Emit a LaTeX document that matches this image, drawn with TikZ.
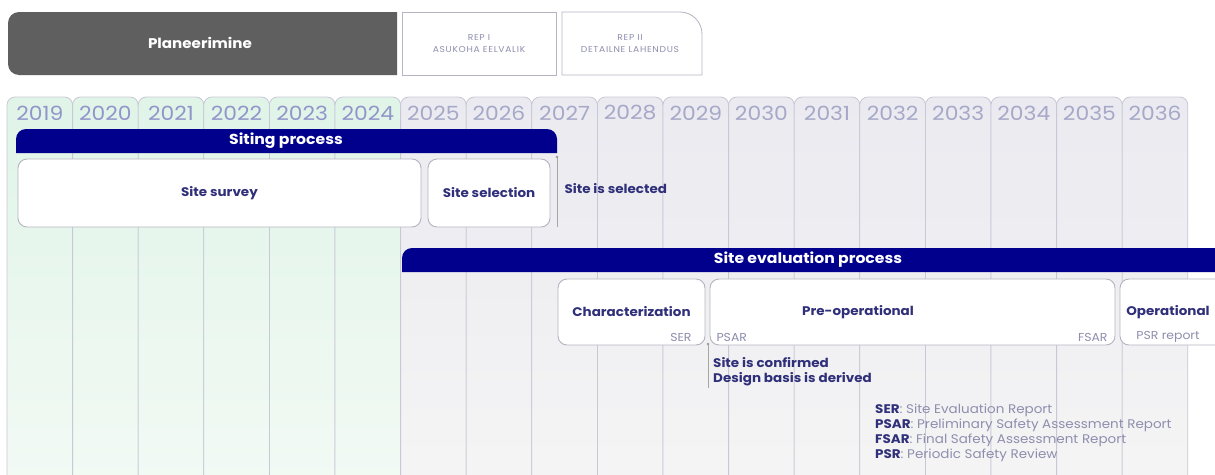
\documentclass[tikz,border=0pt]{standalone}
\usepackage{fontspec}
\setmainfont{Poppins}[FakeStretch=1.08]
\newfontfamily\yearfont{Poppins}[FakeStretch=1.12]
\usetikzlibrary{positioning}
\definecolor{navy}{HTML}{00008C}
\definecolor{ink}{HTML}{30307A}
\definecolor{soft}{HTML}{8E8EAE}
\definecolor{tabline}{HTML}{C8C8D6}
\definecolor{yearA}{HTML}{9195C9}
\definecolor{yearB}{HTML}{A6A8C8}
\definecolor{darkbox}{HTML}{5F5F5F}
\definecolor{boxline}{HTML}{B4B4C2}
\definecolor{greenT}{HTML}{E0F4E8}
\definecolor{greenM}{HTML}{CFEEDA}
\definecolor{greenB}{HTML}{F3FAF5}
\definecolor{greyT}{HTML}{EAEAF0}
\definecolor{greyM}{HTML}{E0E0E3}
\definecolor{greyB}{HTML}{F5F5F5}
\tikzset{
  phasebox/.style={draw=boxline, line width=0.9pt, fill=white, rounded corners=9pt, inner sep=0pt},
  boxtxt/.style={text=ink, font=\fontsize{12.5}{14}\selectfont\bfseries},
  smalltxt/.style={text=soft, font=\fontsize{11.5}{13}\selectfont},
  bartxt/.style={text=white, font=\fontsize{14.5}{16}\selectfont\bfseries},
  reptxt/.style={text=soft, font=\fontsize{8.5}{12}\selectfont\addfontfeatures{LetterSpace=8}, align=center},
  yeartxt/.style={font=\yearfont\fontsize{19.5}{21}\selectfont},
  mile/.style={draw=gray!70, line width=0.9pt},
  miletxt/.style={text=ink, font=\fontsize{12.5}{15}\selectfont\bfseries, align=left},
  legtxt/.style={text=soft, font=\fontsize{12.5}{15}\selectfont, align=left},
}
\begin{document}
\begin{tikzpicture}[x=1pt,y=-1pt]
\useasboundingbox (0,0) rectangle (1215,474);
\fill[white] (0,0) rectangle (1215,474);
% year columns
\foreach \yr [count=\i from 0] in {2019,2020,2021,2022,2023,2024,2025,2026,2027,2028,2029,2030,2031,2032,2033,2034,2035,2036} {
  \pgfmathsetmacro\xl{7+65.6*\i}
  \pgfmathsetmacro\xr{\xl+65.6}
  \pgfmathsetmacro\xc{\xl+32.8}
  \ifnum\i<6
    \shade[top color=greenT, middle color=greenM, bottom color=greenB, rounded corners=8pt] (\xl,500) -- (\xl,97) -- (\xr,97) -- (\xr,500) -- cycle;
    \node[yeartxt, text=yearA] (y\yr) at (\xc,113) {\yr};
  \else
    \shade[top color=greyT, middle color=greyM, bottom color=greyB, rounded corners=8pt] (\xl,500) -- (\xl,97) -- (\xr,97) -- (\xr,500) -- cycle;
    \node[yeartxt, text=yearB] (y\yr) at (\xc,113) {\yr};
  \fi
  \draw[tabline, line width=0.8pt, rounded corners=8pt] (\xl,500) -- (\xl,97) -- (\xr,97) -- (\xr,500);
}
% top planning row
\fill[darkbox] (397,12) [rounded corners=11pt] -- (8,12) -- (8,75) [sharp corners] -- (397,75) -- cycle;
\node[text=white, font=\fontsize{14}{16}\selectfont\bfseries] (plan) at (200,43) {Planeerimine};
\node[draw=boxline, line width=0.8pt, fill=white, minimum width=154pt, minimum height=63pt, inner sep=0pt] (rep1box) at (479,43.5) {};
\node[reptxt] (rep1) at (rep1box) {REP I\\ASUKOHA EELVALIK};
\draw[boxline, line width=0.8pt, fill=white] (562,12) [rounded corners=22pt] -- (702,12) [sharp corners] -- (702,75) -- (562,75) -- cycle;
\node[reptxt] (rep2) at (630,43.5) {REP II\\DETAILNE LAHENDUS};
% siting process
\fill[navy] (16,153) [rounded corners=10pt] -- (16,129) -- (557,129) [sharp corners] -- (557,153) -- cycle;
\node[bartxt] (siting) at (286,141) {Siting process};
\node[phasebox, minimum width=403pt, minimum height=68pt] (survey) at (219.5,193) {};
\node[boxtxt] at (survey) {Site survey};
\node[phasebox, minimum width=122pt, minimum height=68pt] (select) at (489,193) {};
\node[boxtxt] at (select) {Site selection};
\coordinate (m1t) at (557,157);
\coordinate (m1b) at (557,227);
\draw[mile] (m1t) -- (m1b);
\fill[gray!80] (m1t) circle (1.3pt);
\node[miletxt, anchor=west] (selected) at (561,189) {Site is selected};
% site evaluation process
\fill[navy] (1230,272) -- (402,272) [rounded corners=10pt] -- (402,248) [sharp corners] -- (1230,248) -- cycle;
\node[bartxt] (evalbar) at (808,260) {Site evaluation process};
\node[phasebox, minimum width=147pt, minimum height=66pt] (char) at (631.5,312) {};
\node[boxtxt] at (631.5,312) {Characterization};
\node[smalltxt, anchor=east] at (695,337) {SER};
\node[phasebox, minimum width=405pt, minimum height=66pt] (preop) at (912.5,312) {};
\node[boxtxt] at (858,312) {Pre-operational};
\node[smalltxt, anchor=west] at (713,337) {PSAR};
\node[smalltxt, anchor=east] at (1111,337) {FSAR};
\node[phasebox, minimum width=110pt, minimum height=66pt] (oper) at (1175,312) {};
\node[boxtxt] at (1168,312) {Operational};
\node[smalltxt] at (1168,337) {PSR report};
\coordinate (m2t) at (708,344);
\coordinate (m2b) at (708,388);
\draw[mile] (m2t) -- (m2b);
\fill[gray!80] (m2t) circle (1.3pt);
\node[miletxt, anchor=north west, inner sep=0pt] (confirmed) at (713,357) {Site is confirmed\\Design basis is derived};
% legend
\node[legtxt, anchor=north west, inner sep=0pt] (legend) at (875,404) {{\color{ink}\bfseries SER}: Site Evaluation Report\\
{\color{ink}\bfseries PSAR}: Preliminary Safety Assessment Report\\
{\color{ink}\bfseries FSAR}: Final Safety Assessment Report\\
{\color{ink}\bfseries PSR}: Periodic Safety Review};
\end{tikzpicture}
\end{document}
